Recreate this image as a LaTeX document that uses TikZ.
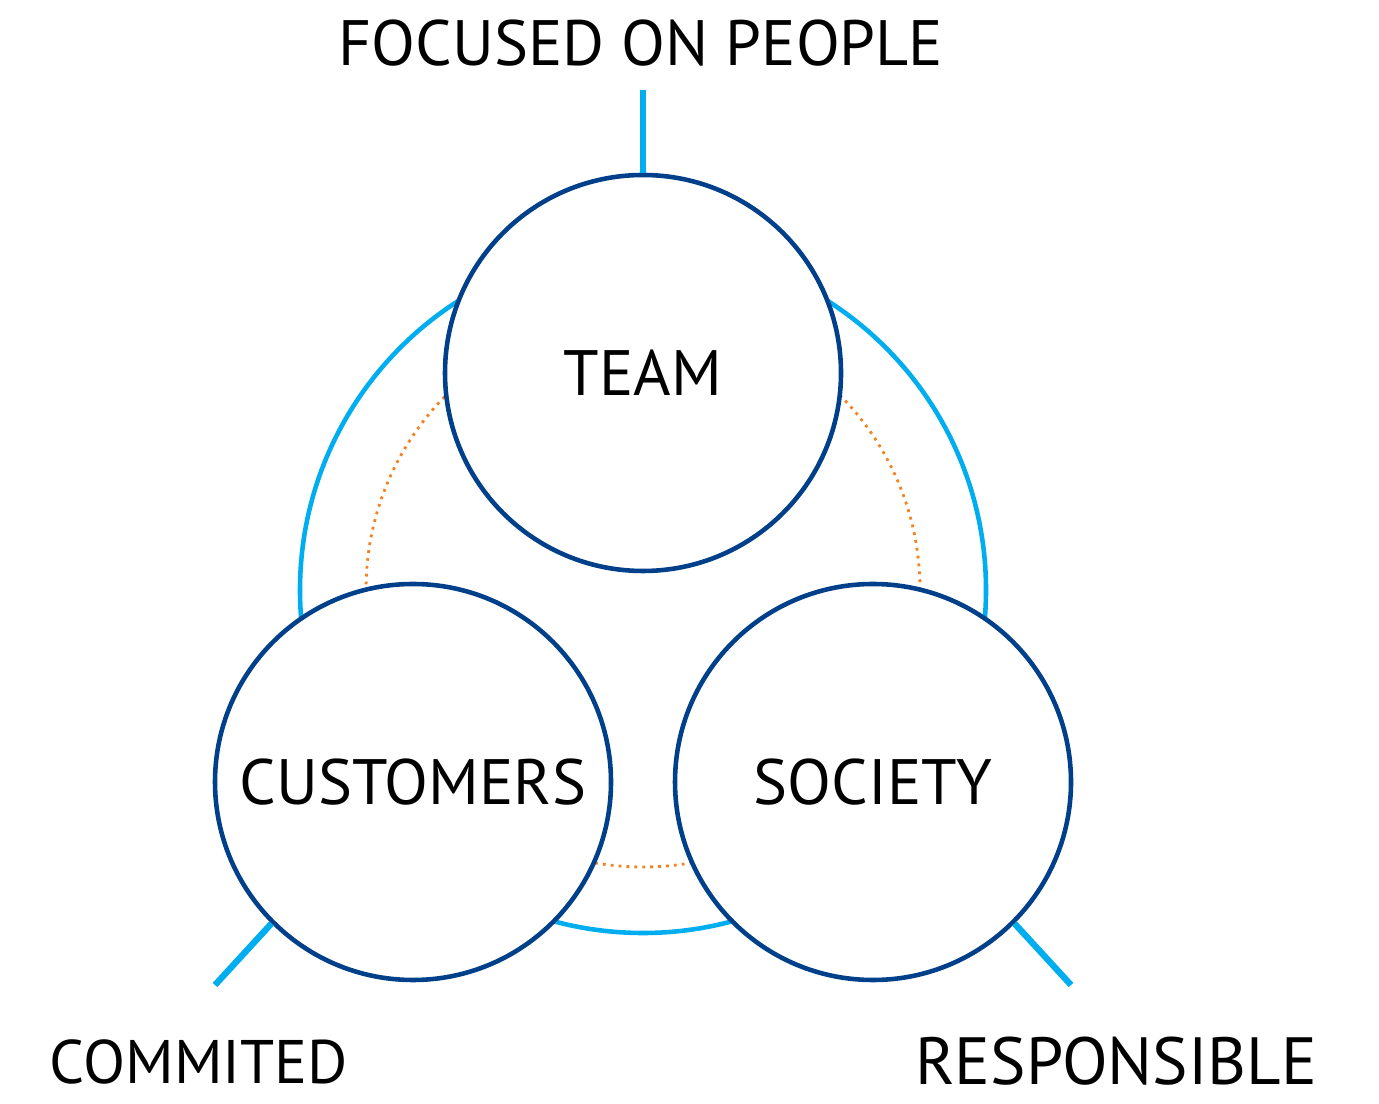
\documentclass[tikz,border=0pt]{standalone}
\usepackage{fontspec}
\setmainfont{PT Sans}
\definecolor{darkblue}{RGB}{0,64,138}
\definecolor{lightblue}{RGB}{0,174,239}
\definecolor{dotorange}{RGB}{245,130,32}
\tikzset{
  value/.style={circle, draw=darkblue, line width=2.6pt, fill=white,
    minimum size=7.92cm, inner sep=0pt, font=\fontsize{36.5}{40}\selectfont},
  tag/.style={font=\fontsize{36.5}{40}\selectfont, inner sep=0pt},
  tick/.style={draw=lightblue, line width=3.6pt}
}
\begin{document}
\begin{tikzpicture}
\useasboundingbox (0,0) rectangle (27.58,22.06);
% rings behind the three circles
\draw[lightblue, line width=2.6pt] (12.86,10.26) circle (6.86);
\draw[dotorange, line width=1.6pt, dash pattern=on 1.6pt off 2.9pt] (12.86,10.26) circle (5.54);
% the three values
\node[value] (team) at (12.86,14.6) {TEAM};
\node[value] (customers) at (8.26,6.42) {CUSTOMERS};
\node[value] (society) at (17.46,6.42) {SOCIETY};
% ticks
\coordinate (tickT) at (12.86,20.26);
\coordinate (tickL) at (4.30,2.36);
\coordinate (tickR) at (21.42,2.36);
\draw[tick] (team.north) -- (tickT);
\draw[tick] (customers.south west) -- (tickL);
\draw[tick] (society.south east) -- (tickR);
% labels
\node[tag] (people) at (12.82,21.2) {FOCUSED ON PEOPLE};
\node[tag, font=\fontsize{35}{40}\selectfont] (commited) at (3.98,0.83) {COMMITED};
\node[tag, font=\fontsize{38}{42}\selectfont] (responsible) at (22.32,0.83) {RESPONSIBLE};
\end{tikzpicture}
\end{document}
